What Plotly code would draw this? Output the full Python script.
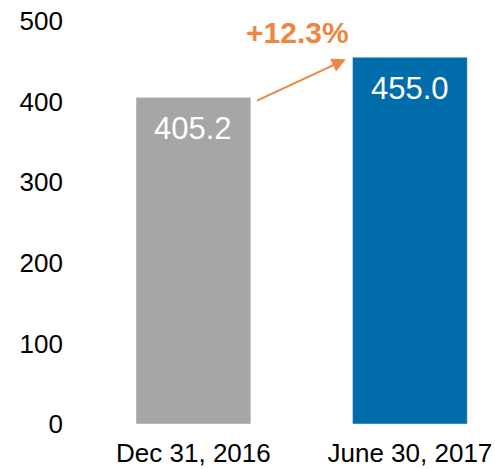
import plotly.graph_objects as go

categories = ["Dec 31, 2016", "June 30, 2017"]
values = [405.2, 455.0]
labels = ["405.2", "455.0"]
colors = ["#A6A6A6", "#006DAA"]
growth = "+12.3%"
yticks = [0, 100, 200, 300, 400, 500]

fig = go.Figure(go.Bar(x=[0, 1], y=values, marker_color=colors, width=0.53))

# value labels inside the top of each bar
for i, v in enumerate(values):
    fig.add_annotation(x=i, y=v, text=labels[i], showarrow=False, yanchor="middle",
                       yshift=-31, font=dict(color="white", size=31))

# growth arrow
fig.add_annotation(x=0.704, y=452.5, ax=0.287, ay=400.4, xref="x", yref="y",
                   axref="x", ayref="y", text="", showarrow=True, arrowhead=2,
                   arrowsize=1.4, arrowwidth=2, arrowcolor="#ED8641")
fig.add_annotation(x=0.48, y=500, text="<b>" + growth + "</b>", showarrow=False,
                   yanchor="middle", yshift=-11, font=dict(color="#ED8641", size=30))

fig.update_layout(
    width=495, height=469,
    margin=dict(l=70, r=5, t=21, b=45),
    plot_bgcolor="white", paper_bgcolor="white",
    font=dict(family="Liberation Sans, Arial", color="black", size=26),
    showlegend=False,
)
fig.update_xaxes(range=[-0.57, 1.37], tickvals=[0, 1], ticktext=categories,
                 showgrid=False, zeroline=False, showline=False, ticks="",
                 ticklabelstandoff=11, automargin=False)
fig.update_yaxes(range=[0, 500], tickvals=yticks, showgrid=False, zeroline=False,
                 showline=False, ticks="", ticklabelstandoff=6, automargin=False)

fig.write_html("out.html", config={"displayModeBar": False},
               post_script="document.body.style.margin='0';")
